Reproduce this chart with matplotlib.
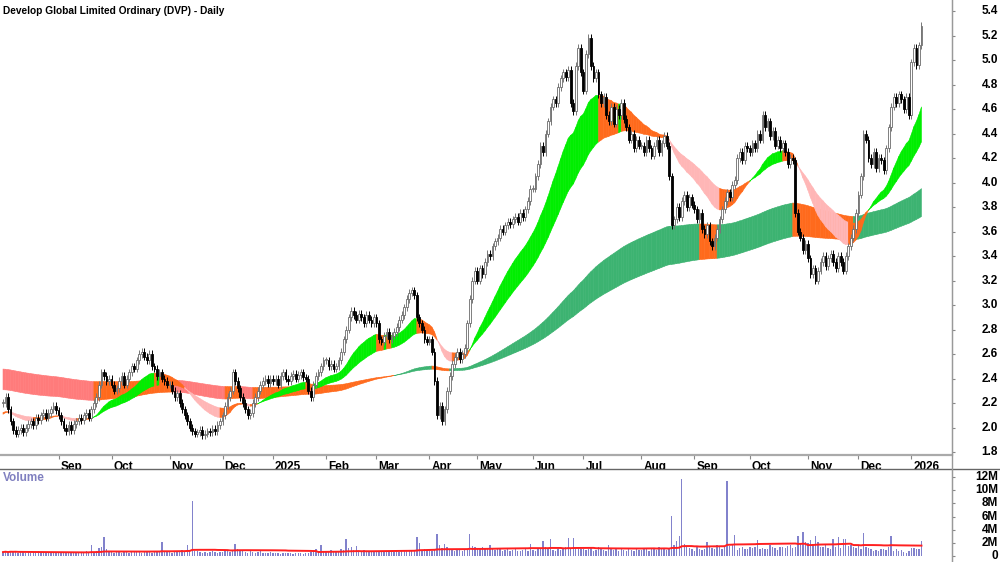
import numpy as np
import pandas as pd
import matplotlib.pyplot as plt
from matplotlib.collections import PolyCollection
from matplotlib.lines import Line2D
import matplotlib.transforms as mtransforms

title = 'Develop Global Limited Ordinary (DVP) - Daily'

# trading days per month, Aug 2024 .. Jan 2026
month_days = [22, 21, 23, 21, 20, 21, 20, 21, 19, 22, 20, 23, 21, 22, 23, 20, 21, 5]
month_labels = ['Sep', 'Oct', 'Nov', 'Dec', '2025', 'Feb', 'Mar', 'Apr', 'May', 'Jun',
                'Jul', 'Aug', 'Sep', 'Oct', 'Nov', 'Dec', '2026']

close = [
    # Aug 24
    2.20, 2.25, 2.15, 2.05, 1.98, 1.95, 1.98, 2.00, 1.96, 2.00, 2.03, 2.05, 2.02, 2.08, 2.06, 2.10,
    2.12, 2.08, 2.12, 2.15, 2.18, 2.14,
    # Sep
    2.10, 2.05, 2.00, 1.97, 2.02, 1.98, 2.03, 2.05, 2.08, 2.06, 2.10, 2.12, 2.08, 2.15, 2.20, 2.25,
    2.35, 2.45, 2.42, 2.38, 2.40,
    # Oct
    2.35, 2.30, 2.32, 2.38, 2.42, 2.35, 2.40, 2.45, 2.50, 2.48, 2.55, 2.60, 2.62, 2.58, 2.55, 2.60,
    2.50, 2.48, 2.42, 2.45, 2.40, 2.38, 2.35,
    # Nov
    2.35, 2.30, 2.25, 2.28, 2.20, 2.15, 2.10, 2.05, 2.00, 1.97, 1.95, 1.96, 1.98, 1.94, 1.95, 1.97,
    1.96, 1.99, 1.97, 2.02, 2.05,
    # Dec
    2.10, 2.18, 2.25, 2.30, 2.45, 2.38, 2.32, 2.25, 2.20, 2.15, 2.10, 2.12, 2.20, 2.25, 2.30, 2.35,
    2.38, 2.40, 2.36, 2.40,
    # Jan 25
    2.38, 2.40, 2.35, 2.42, 2.45, 2.40, 2.38, 2.42, 2.44, 2.40, 2.43, 2.45, 2.41, 2.40, 2.30, 2.25,
    2.35, 2.42, 2.45, 2.50, 2.55,
    # Feb
    2.55, 2.50, 2.52, 2.48, 2.50, 2.55, 2.62, 2.72, 2.80, 2.90, 2.95, 2.92, 2.88, 2.93, 2.90, 2.85,
    2.92, 2.88, 2.85, 2.90,
    # Mar
    2.85, 2.72, 2.70, 2.75, 2.78, 2.72, 2.75, 2.78, 2.82, 2.88, 2.92, 2.98, 3.05, 3.10, 3.12, 3.08,
    2.90, 2.85, 2.80, 2.72, 2.70,
    # Apr
    2.72, 2.62, 2.38, 2.10, 2.18, 2.05, 2.15, 2.30, 2.42, 2.52, 2.58, 2.62, 2.56, 2.60, 2.65, 2.85,
    3.05, 3.20, 3.28,
    # May
    3.20, 3.30, 3.25, 3.35, 3.42, 3.40, 3.48, 3.52, 3.55, 3.62, 3.60, 3.65, 3.68, 3.66, 3.70, 3.72,
    3.68, 3.75, 3.72, 3.78, 3.85, 3.95,
    # Jun
    3.95, 4.05, 4.15, 4.30, 4.25, 4.40, 4.50, 4.62, 4.68, 4.65, 4.78, 4.85, 4.90, 4.86, 4.92, 4.65,
    4.58, 4.95, 5.10, 4.90,
    # Jul
    4.75, 5.05, 5.18, 4.95, 4.85, 4.90, 4.72, 4.65, 4.70, 4.55, 4.50, 4.62, 4.48, 4.60, 4.55, 4.65,
    4.52, 4.45, 4.35, 4.40, 4.28, 4.35, 4.30,
    # Aug
    4.30, 4.25, 4.35, 4.28, 4.22, 4.30, 4.35, 4.25, 4.32, 4.38, 4.30, 4.05, 3.65, 3.70, 3.80, 3.72,
    3.85, 3.90, 3.80, 3.88, 3.82,
    # Sep
    3.78, 3.70, 3.75, 3.62, 3.58, 3.65, 3.52, 3.48, 3.55, 3.62, 3.70, 3.78, 3.85, 3.92, 3.88, 3.98,
    4.02, 4.20, 4.25, 4.18, 4.30, 4.28,
    # Oct
    4.25, 4.32, 4.28, 4.40, 4.35, 4.55, 4.45, 4.50, 4.38, 4.42, 4.30, 4.35, 4.28, 4.32, 4.25, 4.15,
    4.20, 4.18, 3.75, 3.60, 3.55, 3.45, 3.50,
    # Nov
    3.38, 3.25, 3.30, 3.20, 3.28, 3.35, 3.40, 3.32, 3.38, 3.42, 3.35, 3.30, 3.40, 3.35, 3.28, 3.40,
    3.48, 3.55, 3.62, 3.75,
    # Dec
    3.90, 4.05, 4.40, 4.35, 4.20, 4.15, 4.25, 4.12, 4.20, 4.18, 4.10, 4.28, 4.45, 4.62, 4.70, 4.65,
    4.72, 4.68, 4.60, 4.70, 4.55,
    # Jan 26
    4.98, 5.10, 4.96, 5.12, 5.28,
]

# volume in millions
volume = [
    0.6, 0.7, 0.5, 0.8, 0.6, 0.7, 0.5, 0.6, 0.7, 0.5, 0.6, 0.4, 0.6, 0.5, 0.7, 0.6, 0.5, 0.6, 0.4, 0.5, 0.6, 0.5,
    0.5, 0.4, 0.6, 0.5, 0.4, 0.5, 0.6, 0.4, 0.5, 0.6, 0.5, 0.7, 0.6, 1.7, 0.6, 0.8, 1.2, 1.3, 2.9, 1.0, 0.7,
    0.6, 0.5, 0.7, 0.6, 0.5, 0.6, 0.7, 0.5, 0.6, 0.8, 0.6, 0.7, 0.5, 0.6, 0.7, 0.6, 0.5, 0.6, 0.7, 0.8, 2.1, 0.6, 0.7,
    0.6, 0.5, 0.8, 0.6, 0.7, 0.9, 0.6, 1.7, 0.9, 8.3, 0.8, 0.7, 0.6, 0.5, 0.6, 0.5, 0.6, 0.7, 0.6, 0.5, 0.6,
    0.6, 0.7, 0.8, 0.6, 0.9, 1.8, 1.1, 0.8, 0.7, 0.6, 0.5, 0.7, 0.6, 0.5, 0.6, 0.7, 0.5, 0.4, 0.5, 0.6,
    0.4, 0.5, 0.4, 0.3, 0.5, 0.4, 0.5, 0.4, 0.3, 0.4, 0.5, 0.4, 0.3, 0.5, 0.4, 0.6, 0.9, 1.1, 0.7, 1.6, 0.8,
    0.8, 0.7, 0.9, 0.8, 0.7, 0.8, 1.0, 0.9, 2.6, 1.2, 1.4, 0.9, 1.5, 0.8, 0.7, 0.9, 0.6, 0.7, 0.8, 0.7,
    0.7, 0.6, 0.8, 0.7, 0.6, 0.7, 0.8, 0.6, 0.7, 0.6, 0.8, 0.7, 0.9, 0.8, 0.7, 0.8, 2.9, 2.0, 0.9, 1.0, 0.9,
    0.9, 0.8, 1.1, 3.4, 1.6, 1.2, 1.8, 1.4, 1.0, 0.9, 0.8, 1.0, 0.9, 0.8, 0.9, 1.1, 3.3, 1.5, 1.4,
    1.2, 1.0, 1.3, 1.1, 1.2, 1.6, 1.0, 0.9, 1.2, 1.1, 0.8, 0.9, 1.0, 0.8, 0.9, 1.1, 0.8, 0.7, 0.9, 1.0, 0.8, 1.9,
    0.9, 0.8, 1.2, 1.1, 2.3, 1.4, 1.0, 2.6, 0.9, 0.8, 1.0, 0.9, 1.1, 1.3, 2.8, 1.2, 2.7, 1.2, 1.0, 1.1,
    1.1, 0.9, 1.0, 1.2, 0.8, 0.9, 1.4, 1.0, 0.9, 0.8, 1.6, 1.0, 0.9, 1.1, 0.8, 1.0, 0.9, 0.8, 1.0, 0.9, 0.8, 1.1, 0.9,
    0.9, 1.0, 1.2, 0.8, 1.1, 1.0, 0.9, 1.4, 1.0, 1.2, 0.9, 1.0, 6.1, 1.6, 2.3, 3.0, 11.7, 1.9, 1.4, 1.2, 1.0,
    0.8, 1.3, 1.0, 0.9, 1.1, 2.2, 1.4, 1.2, 1.0, 1.6, 1.4, 1.1, 1.3, 11.4, 1.5, 1.6, 3.2, 0.9, 1.2, 1.3, 1.1, 1.0,
    1.3, 1.2, 1.4, 2.4, 1.0, 1.2, 1.1, 1.0, 1.6, 1.3, 1.2, 0.9, 1.4, 1.3, 1.2, 1.5, 1.6, 1.2, 1.4, 3.0, 1.8, 3.7, 2.1,
    2.0, 2.4, 1.8, 3.0, 2.2, 1.4, 1.3, 1.6, 1.2, 1.1, 2.6, 1.4, 2.9, 1.2, 2.6, 2.6, 1.5, 1.6, 1.3, 1.2,
    1.5, 1.1, 3.5, 1.3, 1.2, 1.0, 0.8, 0.9, 0.8, 1.1, 1.0, 0.9, 1.3, 3.0, 0.8, 1.0, 0.7, 0.9, 0.6, 0.5, 0.8,
    1.2, 1.2, 1.1, 1.0, 2.3,
]

# band start values (fast, slow)
short_start = (2.10, 2.12)
long_start = (2.31, 2.48)
short_spans = (22, 44)
long_spans = (160, 250)

price_ticks = [1.8, 2.0, 2.2, 2.4, 2.6, 2.8, 3.0, 3.2, 3.4, 3.6, 3.8, 4.0, 4.2, 4.4, 4.6, 4.8, 5.0, 5.2, 5.4]
vol_ticks = [0, 2, 4, 6, 8, 10, 12]
vol_tick_labels = ['0', '2M', '4M', '6M', '8M', '10M', '12M']

FONT = ['Liberation Sans Narrow', 'Liberation Sans', 'DejaVu Sans']
plt.rcParams['font.family'] = FONT
plt.rcParams['font.weight'] = 'bold'

c = np.array(close)
n = len(c)
x = np.arange(n)
o = np.r_[c[0], c[:-1]]
vol = np.array(volume)


def ema(values, span, start):
    s = pd.Series([start] + list(values))
    return s.ewm(span=span, adjust=False).mean().values[1:]


def draw_band(ax, fast, slow, up, down, mid):
    rising = np.r_[False, np.diff(fast) > 0]
    state = np.where((fast > slow) & rising, up, np.where((fast < slow) & ~rising, down, mid))
    polys = [[(i, fast[i]), (i + 1, fast[i + 1]), (i + 1, slow[i + 1]), (i, slow[i])] for i in range(n - 1)]
    ax.add_collection(PolyCollection(polys, facecolors=state[1:], edgecolors=state[1:], linewidths=0.4))


def right_labels(axis, ticks, labels):
    axis.set_yticks(ticks)
    axis.set_yticklabels([])
    axis.tick_params(axis='y', direction='out', length=2, color='#888888')
    tr = mtransforms.blended_transform_factory(fig.transFigure, axis.transData)
    for v, s in zip(ticks, labels):
        axis.text(998 / W, v, s, transform=tr, ha='right', va='center', fontsize=8.5, clip_on=False)


fig = plt.figure(figsize=(10, 5.62), dpi=100)
W, H = 1000, 562
ax = fig.add_axes([0, (H - 455) / H, 952 / W, 455 / H])
axv = fig.add_axes([0, 0, 952 / W, (H - 469) / H])

ORANGE = '#ff6a1c'
draw_band(ax, ema(c, long_spans[0], long_start[0]), ema(c, long_spans[1], long_start[1]),
          '#3cb371', '#ff7b7b', ORANGE)
draw_band(ax, ema(c, short_spans[0], short_start[0]), ema(c, short_spans[1], short_start[1]),
          '#00ee00', '#ffb6b6', ORANGE)

# candles
up = c >= o
lo = np.minimum(o, c)
hi = np.maximum(o, c)
wick = 0.03
ax.vlines(x[up], lo[up] - wick, hi[up] + wick, color='#777777', lw=0.7, zorder=3)
ax.vlines(x[~up], lo[~up] - wick, hi[~up] + wick, color='black', lw=0.7, zorder=3)
body = np.maximum(hi - lo, 0.006)
ax.bar(x[up], body[up], bottom=lo[up], width=0.7, color='white', edgecolor='#6a6a6a', lw=0.6, zorder=4)
ax.bar(x[~up], body[~up], bottom=lo[~up], width=0.7, color='black', edgecolor='black', lw=0.6, zorder=4)

x0, x1 = -1.19, 376.1
ax.set_xlim(x0, x1)
ax.set_ylim(1.776, 5.49)

month_start = np.cumsum(month_days)[:-1]
ax.set_xticks(month_start)
ax.set_xticklabels(month_labels)
ax.tick_params(axis='x', direction='out', length=3, width=0.8, color='#888888', pad=1, labelsize=8.5)
shift = mtransforms.ScaledTranslation(1.5 / 72, 0, fig.dpi_scale_trans)
for lab in ax.get_xticklabels():
    lab.set_horizontalalignment('left')
    lab.set_transform(lab.get_transform() + shift)

ax.yaxis.tick_right()
right_labels(ax, price_ticks, [f'{v:.1f}' for v in price_ticks])

for s in ['top', 'left']:
    ax.spines[s].set_visible(False)
ax.spines['right'].set_color('#999999')
ax.spines['bottom'].set_color('#aaaaaa')
ax.spines['bottom'].set_linewidth(1.6)

ax.text(3 / 952, 1 - 11 / 455, title, transform=ax.transAxes, fontsize=7.3, va='center', ha='left')

# volume panel
ma = pd.Series(vol).rolling(50, min_periods=1).mean()
axv.bar(x, vol, width=0.55, color='#8282cc', zorder=2)
axv.plot(x, ma, color='#ff2020', lw=1.4, zorder=3)
axv.set_xlim(x0, x1)
axv.set_ylim(-0.91, 13.22)
axv.set_xticks([])
axv.yaxis.tick_right()
right_labels(axv, vol_ticks, vol_tick_labels)
for s in ['top', 'left', 'bottom']:
    axv.spines[s].set_visible(False)
axv.spines['right'].set_color('#999999')
axv.text(3 / 952, 1 - 9 / 93, 'Volume', transform=axv.transAxes, fontsize=8.5, color='#8080c0',
         va='center', ha='left')

fig.add_artist(Line2D([0, 1], [1 - 469 / H, 1 - 469 / H], transform=fig.transFigure, color='#666666', lw=1))
fig.add_artist(Line2D([952 / W, 952 / W], [0, 1], transform=fig.transFigure, color='#999999', lw=1))

fig.savefig('out.png', dpi=100)
